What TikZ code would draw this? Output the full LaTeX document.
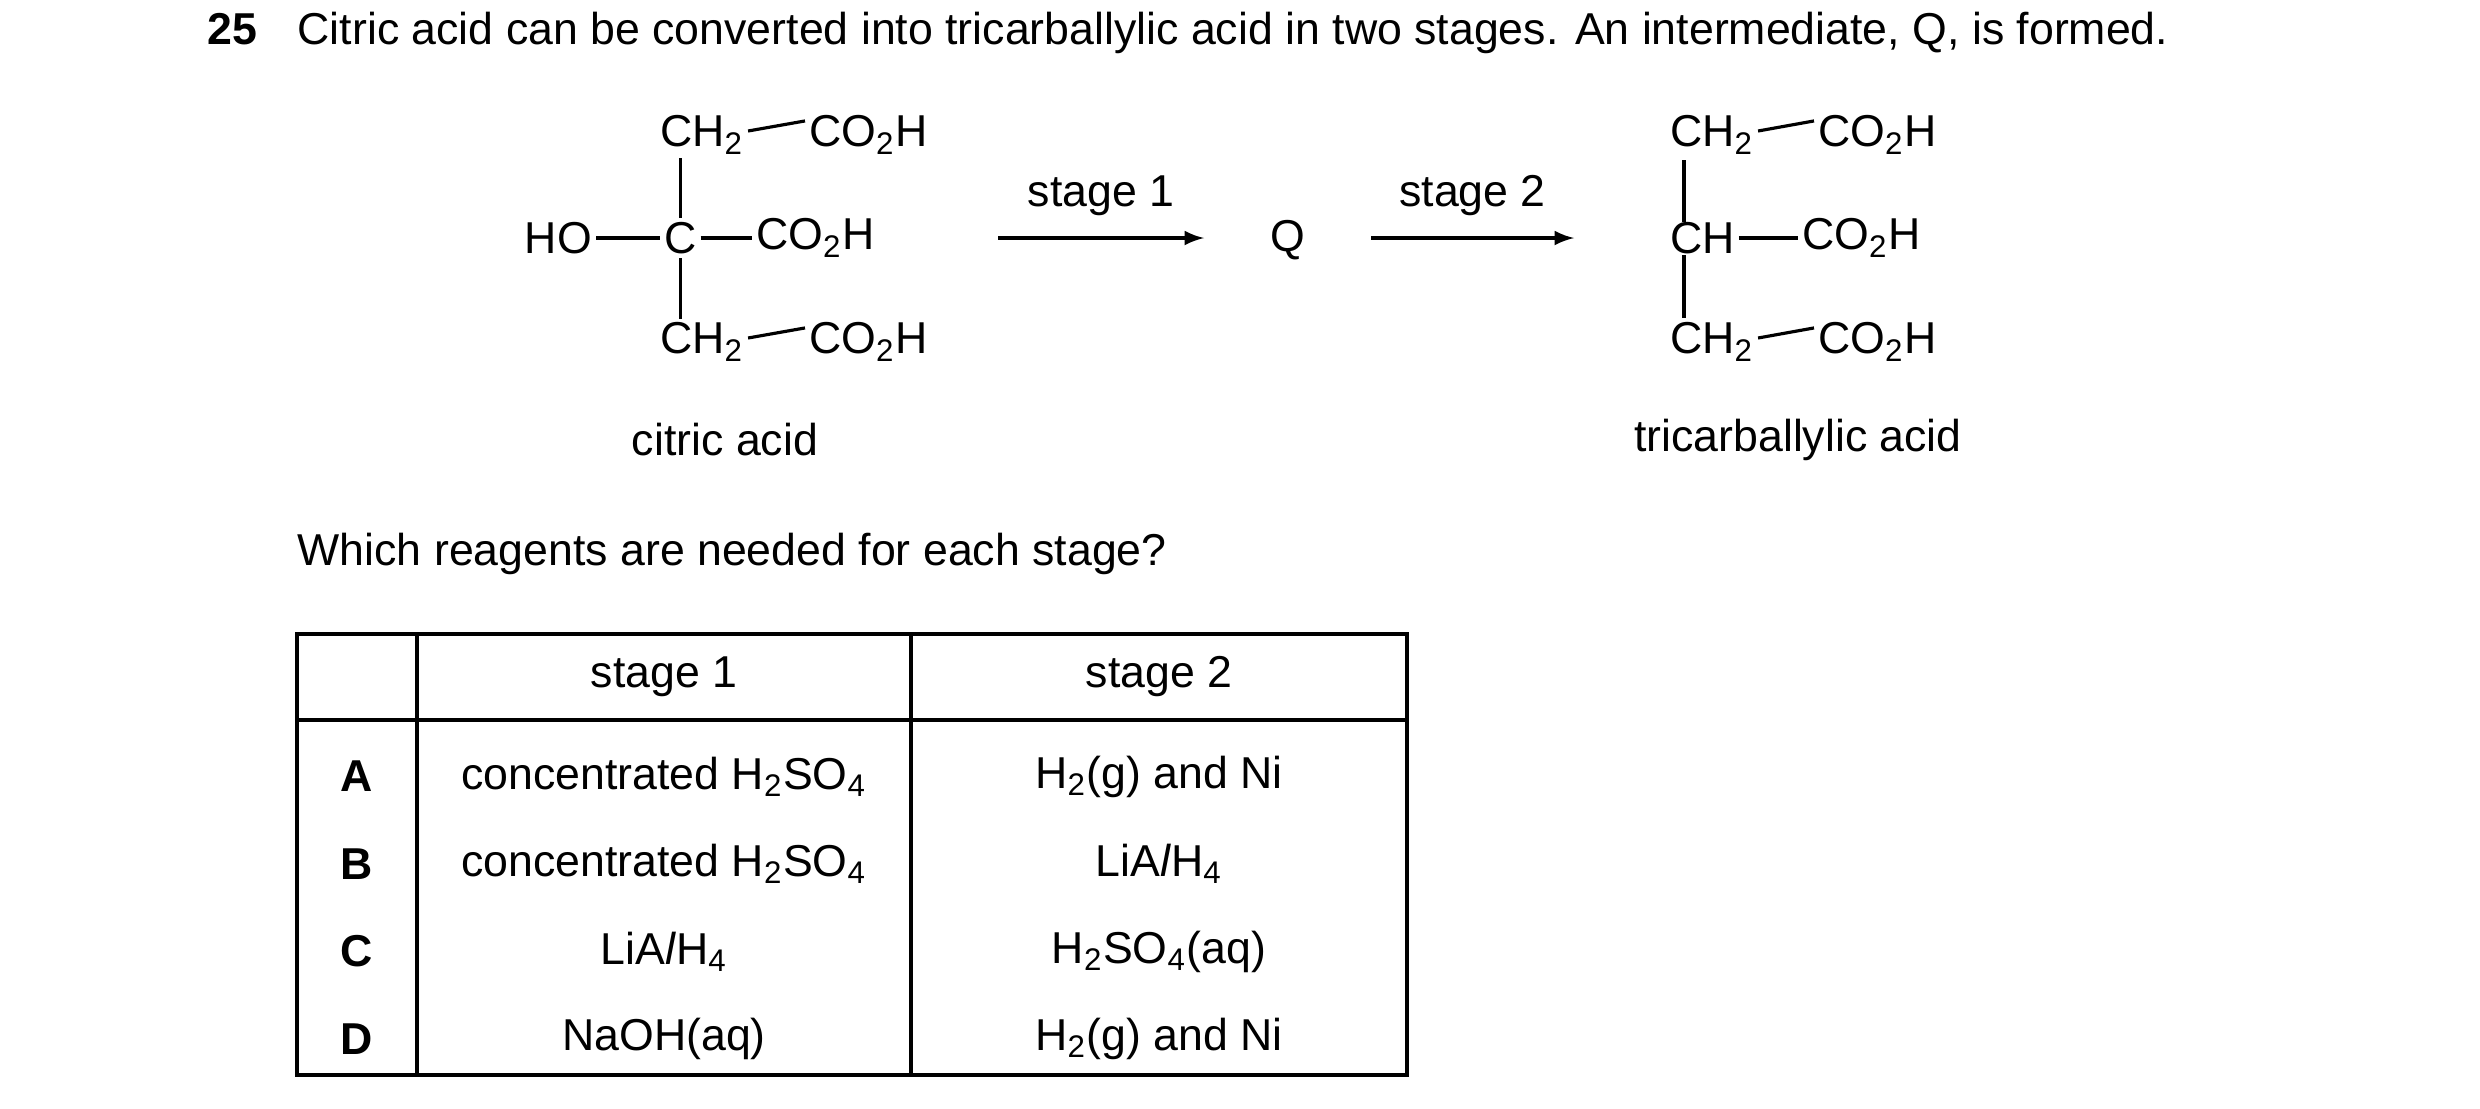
\documentclass[tikz,border=0pt]{standalone}
\usepackage{fontspec}
\setmainfont{Liberation Sans}
\usetikzlibrary{positioning}
\tikzset{
  atom/.style={inner sep=1pt, font=\fontsize{12.7}{15}\selectfont},
  txt/.style={inner sep=0pt, font=\fontsize{12.7}{15}\selectfont},
  bond/.style={line width=0.9pt},
  react/.style={line width=0.9pt, -latex},
}
\newcommand{\sbs}[1]{\textsubscript{#1}}
\begin{document}
\begin{tikzpicture}[x=0.01cm, y=-0.01cm]
  \useasboundingbox (0,0) rectangle (2480,1108);
  % question
  \node[txt, anchor=base west, font=\fontsize{12.7}{15}\selectfont\bfseries] (num) at (207,44) {25};
  \node[txt, anchor=base west] (q) at (297,44) {Citric acid can be converted into tricarballylic acid in two stages. An intermediate, Q, is formed.};
  % citric acid
  \node[atom, anchor=west] (c) at (660,238) {C};
  \node[atom, anchor=east] (ho) at (596,238) {HO};
  \node[atom, anchor=west] (co2m) at (752,238) {CO\sbs{2}H};
  \node[atom, anchor=west] (ch2t) at (656,135) {CH\sbs{2}};
  \node[atom, anchor=west] (co2t) at (805,135) {CO\sbs{2}H};
  \node[atom, anchor=west] (ch2b) at (656,342) {CH\sbs{2}};
  \node[atom, anchor=west] (co2b) at (805,342) {CO\sbs{2}H};
  \draw[bond] (ho.east) -- (c.west);
  \draw[bond] (c.east) -- (co2m.west);
  \draw[bond] (ch2t.east) ++(0,-4) -- ([yshift=4]co2t.west);
  \draw[bond] (ch2b.east) ++(0,-4) -- ([yshift=4]co2b.west);
  \draw[bond] (c.north) -- (c.north |- ch2t.south);
  \draw[bond] (c.south) -- (c.south |- ch2b.north);
  \node[txt] (citric) at (725,440) {citric acid};
  % arrows
  \node[atom] (qq) at (1288,240) {Q};
  \coordinate (a1s) at (998,238);
  \coordinate (a1e) at (1204,238);
  \coordinate (a2s) at (1371,238);
  \coordinate (a2e) at (1574,238);
  \draw[react] (a1s) -- (a1e) node[midway, above=6pt, txt] {stage 1};
  \draw[react] (a2s) -- (a2e) node[midway, above=6pt, txt] {stage 2};
  % tricarballylic acid
  \node[atom, anchor=west] (ch) at (1666,238) {CH};
  \node[atom, anchor=west] (co2n) at (1798,238) {CO\sbs{2}H};
  \node[atom, anchor=west] (ch2u) at (1666,135) {CH\sbs{2}};
  \node[atom, anchor=west] (co2u) at (1814,135) {CO\sbs{2}H};
  \node[atom, anchor=west] (ch2d) at (1666,342) {CH\sbs{2}};
  \node[atom, anchor=west] (co2d) at (1814,342) {CO\sbs{2}H};
  \draw[bond] (ch.east) -- (co2n.west);
  \draw[bond] (ch2u.east) ++(0,-4) -- ([yshift=4]co2u.west);
  \draw[bond] (ch2d.east) ++(0,-4) -- ([yshift=4]co2d.west);
  \draw[bond] (1684,222) -- (1684,160);
  \draw[bond] (1684,255) -- (1684,318);
  \node[txt] (tricarb) at (1798,440) {tricarballylic acid};
  % table
  \node[txt, anchor=base west] (which) at (297,565) {Which reagents are needed for each stage?};
  \draw[line width=0.9pt] (297,634) rectangle (1407,1075);
  \draw[line width=0.9pt] (297,720) -- (1407,720);
  \draw[line width=0.9pt] (417,634) -- (417,1075);
  \draw[line width=0.9pt] (911,634) -- (911,1075);
  \node[txt] (h1) at (664,677) {stage 1};
  \node[txt] (h2) at (1159,677) {stage 2};
  \foreach \l/\s/\t [count=\i] in {A/concentrated H\sbs{2}SO\sbs{4}/H\sbs{2}(g) and Ni,
      B/concentrated H\sbs{2}SO\sbs{4}/LiA\textit{l}H\sbs{4},
      C/LiA\textit{l}H\sbs{4}/H\sbs{2}SO\sbs{4}(aq),
      D/NaOH(aq)/H\sbs{2}(g) and Ni} {
    \node[txt, font=\fontsize{12.7}{15}\selectfont\bfseries] (l\i) at (357,689+87.5*\i) {\l};
    \node[txt] (s\i) at (664,689+87.5*\i) {\s};
    \node[txt] (t\i) at (1159,689+87.5*\i) {\t};
  }
\end{tikzpicture}
\end{document}
